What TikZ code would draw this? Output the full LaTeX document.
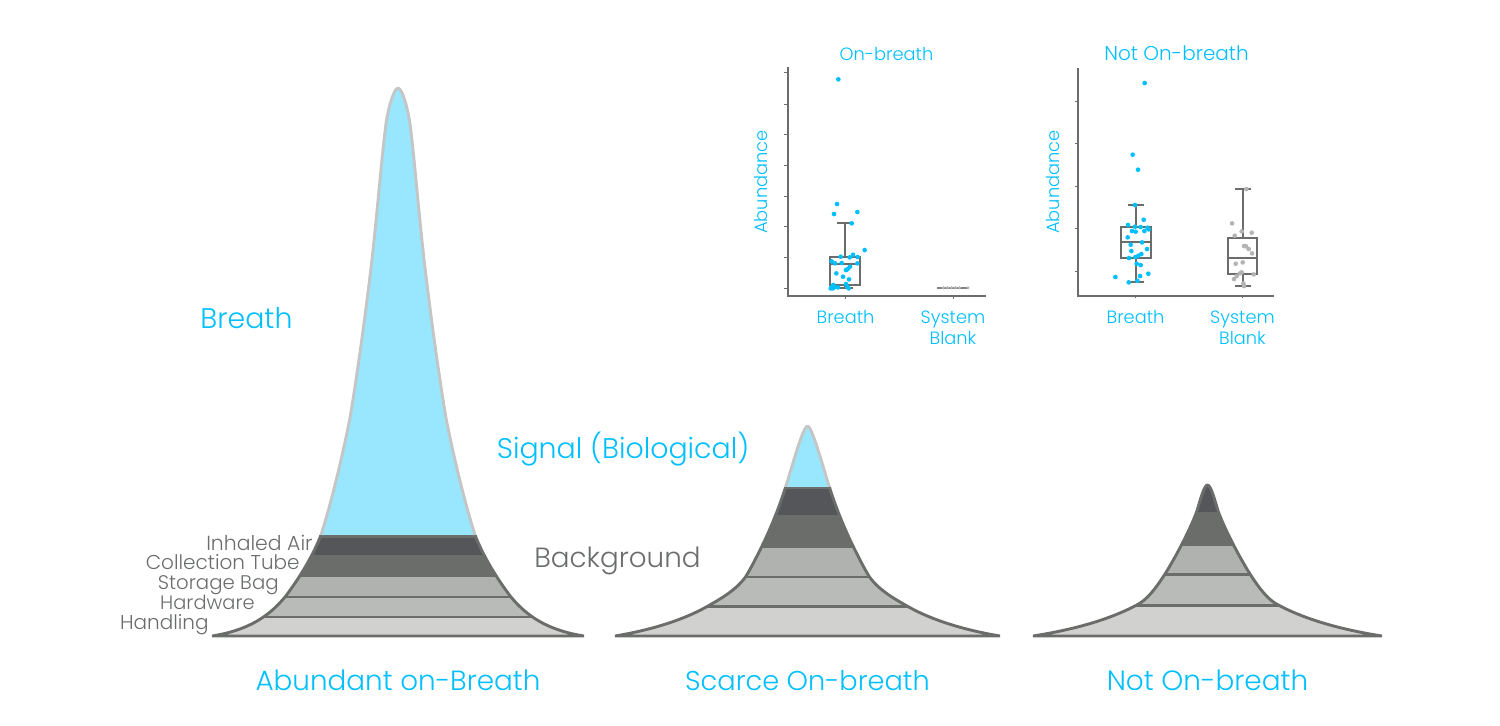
\documentclass[tikz,border=0pt]{standalone}
\usepackage{fontspec}
\setmainfont{Poppins Light}
\definecolor{cyantxt}{HTML}{00BFFF}
\definecolor{greytxt}{HTML}{6B6D6D}
\definecolor{skyfill}{HTML}{99E6FF}
\definecolor{rimlight}{HTML}{C4C6C6}
\definecolor{rimdark}{HTML}{6B6D6B}
\definecolor{bandA}{HTML}{54565A}
\definecolor{bandB}{HTML}{6B6D6B}
\definecolor{bandC}{HTML}{B0B2B0}
\definecolor{bandD}{HTML}{B9BBB9}
\definecolor{bandE}{HTML}{D1D2D0}
\definecolor{dotgrey}{HTML}{B4B4B4}
\newcommand{\fsz}[1]{\fontsize{#1}{#1}\selectfont}
\tikzset{
  bigcy/.style={text=cyantxt,inner sep=0pt,anchor=base},
  biggr/.style={text=greytxt,inner sep=0pt,anchor=base},
  smallgr/.style={text=greytxt,inner sep=0pt,anchor=base east},
  plotcy/.style={text=cyantxt,font=\fontsize{8.9}{10.5}\selectfont,inner sep=0pt,align=center,anchor=base},
  axisline/.style={draw=rimdark,line width=1pt},
  boxline/.style={draw=rimdark,line width=1.05pt},
  tickline/.style={draw=rimdark,line width=0.5pt},
  rim/.style={line width=1.45pt,miter limit=1},
  bandline/.style={draw=rimdark,line width=1.25pt},
  zoomA/.style={shift={(740,40)},x=0.1667pt,y=-0.1667pt},
  zoomB/.style={shift={(1030,40)},x=0.1667pt,y=-0.1667pt},
}
\def\mtnA{(212,636) .. controls (250,630) and (270,615) .. (285,597)
  .. controls (298,580) and (312,558) .. (321,535)
  .. controls (332,500) and (342,458) .. (350,418)
  .. controls (358,370) and (366,310) .. (371.7,262)
  .. controls (378,205) and (381,165) .. (385,132)
  .. controls (387,110) and (394,88) .. (398,88)
  .. controls (402,88) and (409,110) .. (411,132)
  .. controls (415,165) and (418,205) .. (424.3,262)
  .. controls (430,310) and (438,370) .. (446,418)
  .. controls (454,458) and (464,500) .. (475,535)
  .. controls (484,558) and (498,580) .. (511,597)
  .. controls (526,615) and (546,630) .. (584,636) -- cycle}
\def\mtnB{(615,636) .. controls (645,631) and (680,622) .. (708,606)
  .. controls (722,598) and (736,590) .. (745.7,576.7)
  .. controls (751,568) and (755,560) .. (761,548)
  .. controls (770,530) and (779,508) .. (785.7,486.7)
  .. controls (792,467) and (803,426) .. (807.5,426)
  .. controls (812,426) and (823,467) .. (829.3,486.7)
  .. controls (836,508) and (845,530) .. (854,548)
  .. controls (860,560) and (864,568) .. (869.3,576.7)
  .. controls (879,590) and (893,598) .. (907,606)
  .. controls (935,622) and (970,631) .. (1000,636) -- cycle}
\def\mtnC{(1033,636) .. controls (1065,631) and (1105,622) .. (1136.7,605)
  .. controls (1147,600) and (1156,588) .. (1165,574)
  .. controls (1175,558) and (1189,532) .. (1196.7,511.7)
  .. controls (1200,501) and (1204,485) .. (1207.5,485)
  .. controls (1211,485) and (1215,501) .. (1218.3,511.7)
  .. controls (1226,532) and (1240,558) .. (1250,574)
  .. controls (1259,588) and (1268,600) .. (1278.3,605)
  .. controls (1310,622) and (1350,631) .. (1382,636) -- cycle}
\begin{document}
\begin{tikzpicture}[x=0.5pt,y=-0.5pt]
\useasboundingbox (0,0) rectangle (1500,725);
% ---- mountain 1
\begin{scope}
  \clip \mtnA;
  \fill[skyfill] (150,60) rectangle (650,535);
  \fill[bandA] (150,535) rectangle (650,555);
  \fill[bandB] (150,555) rectangle (650,577);
  \fill[bandC] (150,577) rectangle (650,597);
  \fill[bandD] (150,597) rectangle (650,617);
  \fill[bandE] (150,617) rectangle (650,640);
  \draw[bandline] (150,536.5) -- (650,536.5) (150,597) -- (650,597) (150,617) -- (650,617);
\end{scope}
\begin{scope}
  \clip (150,60) rectangle (650,535);
  \draw[rimlight,rim] \mtnA;
\end{scope}
\begin{scope}
  \clip (150,535) rectangle (650,650);
  \draw[rimdark,rim] \mtnA;
\end{scope}
% ---- mountain 2
\begin{scope}
  \clip \mtnB;
  \fill[skyfill] (600,400) rectangle (1010,487);
  \fill[bandA] (600,487) rectangle (1010,515);
  \fill[bandB] (600,515) rectangle (1010,548);
  \fill[bandC] (600,548) rectangle (1010,577);
  \fill[bandD] (600,577) rectangle (1010,606);
  \fill[bandE] (600,606) rectangle (1010,640);
  \draw[bandline] (600,488) -- (1010,488) (600,577) -- (1010,577) (600,606.5) -- (1010,606.5);
\end{scope}
\begin{scope}
  \clip (600,400) rectangle (1010,487);
  \draw[rimlight,rim] \mtnB;
\end{scope}
\begin{scope}
  \clip (600,487) rectangle (1010,650);
  \draw[rimdark,rim] \mtnB;
\end{scope}
% ---- mountain 3
\begin{scope}
  \clip \mtnC;
  \fill[bandA] (1020,470) rectangle (1400,512);
  \fill[bandB] (1020,512) rectangle (1400,546);
  \fill[bandC] (1020,546) rectangle (1400,574);
  \fill[bandD] (1020,574) rectangle (1400,605);
  \fill[bandE] (1020,605) rectangle (1400,640);
  \draw[bandline] (1020,574.5) -- (1400,574.5) (1020,605.5) -- (1400,605.5);
\end{scope}
\draw[rimdark,rim] \mtnC;
% ---- labels
\node[bigcy,font=\fsz{14.2}] (lbreath) at (246.5,328.5) {Breath};
\node[bigcy,font=\fsz{14.2}] (lsignal) at (623,458.5) {Signal (Biological)};
\node[biggr,font=\fsz{13.9}] (lback) at (617.5,567) {Background};
\node[smallgr,font=\fsz{10.2}] (linh) at (313,550) {Inhaled Air};
\node[smallgr,font=\fsz{10}] (lcol) at (300,569.5) {Collection Tube};
\node[smallgr,font=\fsz{9.85}] (lsto) at (279,589.5) {Storage Bag};
\node[smallgr,font=\fsz{9.7}] (lhar) at (255,609) {Hardware};
\node[smallgr,font=\fsz{10}] (lhan) at (209,629) {Handling};
\node[bigcy,font=\fsz{13.9}] (cap1) at (398,690) {Abundant on-Breath};
\node[bigcy,font=\fsz{13.6}] (cap2) at (807.5,690) {Scarce On-breath};
\node[bigcy,font=\fsz{13.95}] (cap3) at (1207.5,690) {Not On-breath};
% ---- chart 1
\node[plotcy] (t1) at (886.5,60) {On-breath};
\node[plotcy,rotate=90] (ya1) at (767.7,182) {Abundance};
\node[plotcy] (xa1) at (845.5,323) {Breath};
\node[plotcy] (xb1s) at (953,323) {System};
\node[plotcy] (xb1b) at (953,344) {Blank};
\begin{scope}[zoomA]
  \draw[axisline] (143,82) -- (143,769) -- (737,769);
  \foreach \yy in {98,192,282,375,468,560,653,746} \draw[tickline] (133,\yy) -- (143,\yy);
  \foreach \xx in {317,640} \draw[tickline] (\xx,769) -- (\xx,776);
  \draw[boxline] (270,650) rectangle (361,736);
  \draw[boxline] (270,673) -- (361,673);
  \draw[boxline] (316,650) -- (316,550) (292,550) -- (340,550);
  \draw[boxline] (316,736) -- (316,745) (292,745) -- (340,745);
  \foreach \px/\py in {295/118,291/492,282/522,352/516,335/550,374/630,339/644,353/651,302/650,329/652,275/664,285/670,305/669,352/670,330/680,323/687,318/690,289/700,309/710,327/718,318/732,322/740,326/745,280/735,278/745,272/745,283/742,294/742,276/740}
    \fill[cyantxt] (\px,\py) circle[radius=7];
  \draw[boxline,draw=rimdark!70!dotgrey] (590,745) -- (688,745);
  \foreach \px in {610,622,634,646,658,684} \fill[dotgrey] (\px,743) circle[radius=5];
\end{scope}
% ---- chart 2
\node[plotcy,font=\fsz{10}] (t2) at (1176.5,60.5) {Not On-breath};
\node[plotcy,rotate=90] (ya2) at (1059,182) {Abundance};
\node[plotcy] (xa2) at (1135.5,323) {Breath};
\node[plotcy] (xb2s) at (1242.5,323) {System};
\node[plotcy] (xb2b) at (1242.5,344) {Blank};
\begin{scope}[zoomB]
  \draw[axisline] (145,85) -- (145,768) -- (733,768);
  \foreach \yy in {183,310,438,566,693} \draw[tickline] (134,\yy) -- (145,\yy);
  \foreach \xx in {317,637} \draw[tickline] (\xx,768) -- (\xx,775);
  \draw[boxline] (272,561) rectangle (362,655);
  \draw[boxline] (272,607) -- (362,607);
  \draw[boxline] (317,561) -- (317,495) (293,495) -- (342,495);
  \draw[boxline] (317,655) -- (317,727) (293,727) -- (342,727);
  \foreach \px/\py in {344/129,308/344,324/389,315/495,341/539,294/555,315/560,332/561,352/563,356/568,306/573,317/575,343/573,293/592,336/607,302/614,351/627,304/633,334/642,325/647,316/651,297/654,320/671,332/675,330/708,355/701,256/711,322/722,296/727}
    \fill[cyantxt] (\px,\py) circle[radius=7];
  \draw[boxline] (595,595) rectangle (682,703);
  \draw[boxline] (595,653) -- (682,653);
  \draw[boxline] (638,595) -- (638,447) (615,447) -- (663,447);
  \draw[boxline] (638,703) -- (638,737) (615,737) -- (663,737);
  \foreach \px/\py in {649/447,606/550,635/574,665/578,614/587,642/618,648/619,656/627,666/640,617/671,638/667,635/697,630/700,671/703,620/708,612/717,640/730,642/738}
    \fill[dotgrey] (\px,\py) circle[radius=7];
\end{scope}
\end{tikzpicture}
\end{document}
